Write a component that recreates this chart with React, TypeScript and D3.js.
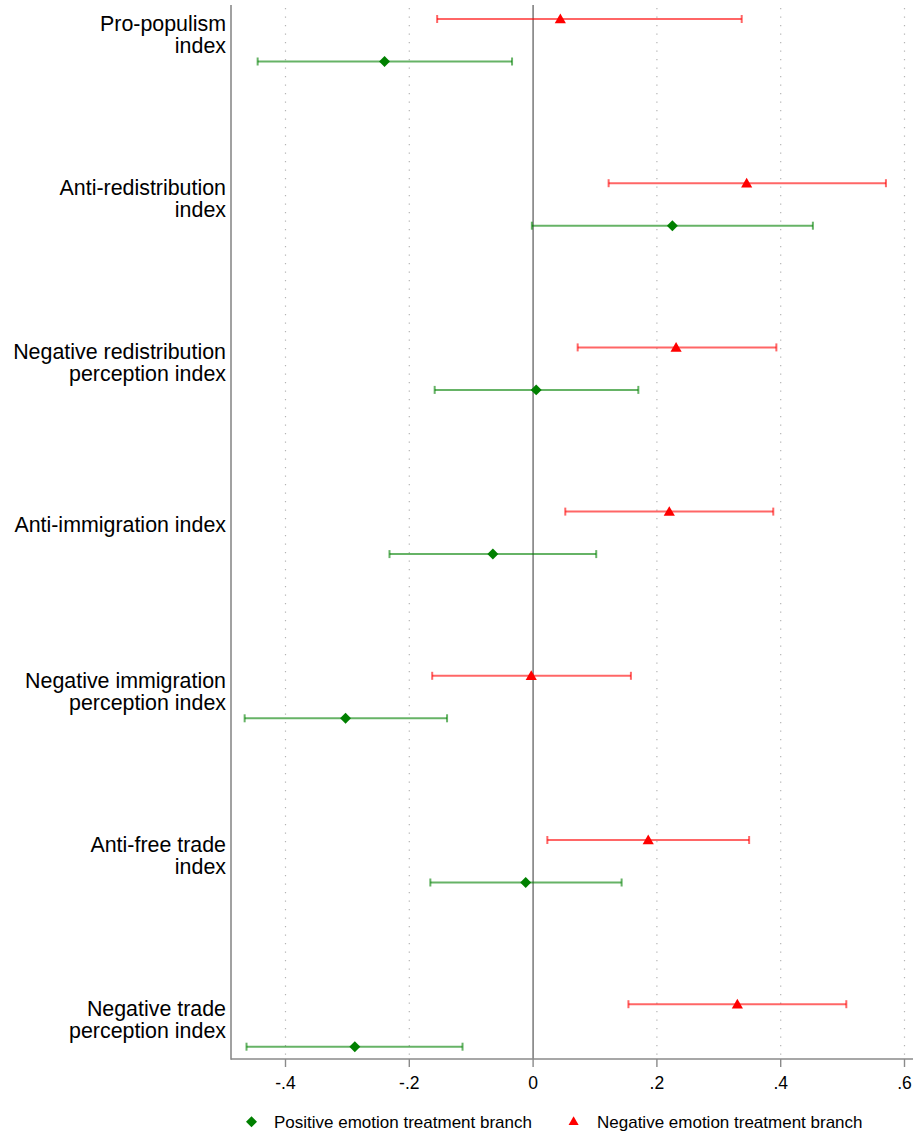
import React from "react";
import * as d3 from "d3";

const categories: string[][] = [
  ["Pro-populism", "index"],
  ["Anti-redistribution", "index"],
  ["Negative redistribution", "perception index"],
  ["Anti-immigration index"],
  ["Negative immigration", "perception index"],
  ["Anti-free trade", "index"],
  ["Negative trade", "perception index"],
];

const negPoint = [0.044, 0.345, 0.231, 0.22, -0.003, 0.186, 0.33];
const negLow = [-0.155, 0.122, 0.072, 0.052, -0.163, 0.023, 0.154];
const negHigh = [0.337, 0.57, 0.393, 0.388, 0.158, 0.349, 0.506];

const posPoint = [-0.24, 0.225, 0.005, -0.065, -0.303, -0.012, -0.288];
const posLow = [-0.445, -0.002, -0.159, -0.232, -0.466, -0.166, -0.463];
const posHigh = [-0.034, 0.452, 0.17, 0.102, -0.139, 0.143, -0.114];

const xTicks = [-0.4, -0.2, 0, 0.2, 0.4, 0.6];
const xTickLabels = ["-.4", "-.2", "0", ".2", ".4", ".6"];

const legendLabels = [
  "Positive emotion treatment branch",
  "Negative emotion treatment branch",
];

const W = 913;
const H = 1134;
const plotLeft = 231;
const plotRight = 913;
const plotTop = 5;
const plotBottom = 1059;

const GREEN = "#008000";
const RED = "#ff0000";
const FONT = "'Liberation Sans', Arial, Helvetica, sans-serif";

export default function App() {
  const x = d3.scaleLinear().domain([-0.4, 0.6]).range([285.5, 904.5]);
  const y = d3.scaleLinear().domain([0, 6]).range([40.25, 1025.45]);
  const off = 0.1294; // offset of series within a category, in category units

  const diamond = d3.symbol().type(d3.symbolSquare).size(60)();
  const triangle = d3.symbol().type(d3.symbolTriangle).size(54)();
  const legTriangle = d3.symbol().type(d3.symbolTriangle).size(44)();

  const capH = 4;

  const series = [
    { point: negPoint, low: negLow, high: negHigh, color: RED, dy: -off, sym: triangle, symDy: 1, rot: 0 },
    { point: posPoint, low: posLow, high: posHigh, color: GREEN, dy: off, sym: diamond, symDy: 0, rot: 45 },
  ];

  return (
    <div style={{ position: "absolute", left: 0, top: 0 }}>
      <svg width={W} height={H} style={{ display: "block", background: "#fff" }}>
        {/* dotted gridlines */}
        {xTicks.filter((t) => t !== 0).map((t) => (
          <line
            key={"g" + t}
            x1={x(t)}
            x2={x(t)}
            y1={plotTop + 3}
            y2={plotBottom}
            stroke="#b4b4b4"
            strokeWidth={1.2}
            strokeDasharray="1.2 7.3"
          />
        ))}
        {/* zero line */}
        <line x1={x(0)} x2={x(0)} y1={plotTop} y2={plotBottom} stroke="#808080" strokeWidth={1.6} />

        {/* axes */}
        <line x1={plotLeft} x2={plotLeft} y1={plotTop} y2={plotBottom + 0.8} stroke="#8a8a8a" strokeWidth={1.6} />
        <line x1={plotLeft} x2={plotRight} y1={plotBottom} y2={plotBottom} stroke="#8a8a8a" strokeWidth={1.6} />
        {xTicks.map((t, i) => (
          <g key={"t" + t}>
            <line x1={x(t)} x2={x(t)} y1={plotBottom} y2={plotBottom + 8} stroke="#8a8a8a" strokeWidth={1.4} />
            <text
              x={x(t)}
              y={plotBottom + 30}
              textAnchor="middle"
              fontFamily={FONT}
              fontSize={17.5}
              fill="#000"
            >
              {xTickLabels[i]}
            </text>
          </g>
        ))}

        {/* category labels */}
        {categories.map((lines, i) => {
          const c = y(i);
          const base = lines.length === 2 ? [c - 9.5, c + 12.5] : [c - 0.5];
          return (
            <text key={"c" + i} textAnchor="end" fontFamily={FONT} fontSize={21.4} fill="#000">
              {lines.map((ln, j) => (
                <tspan key={j} x={226} y={base[j]}>
                  {ln}
                </tspan>
              ))}
            </text>
          );
        })}

        {/* error bars and points */}
        {series.map((s, si) => (
          <g key={"s" + si}>
            {s.point.map((p, i) => {
              const yy = y(i + s.dy);
              return (
                <g key={i}>
                  <g stroke={s.color} strokeOpacity={0.6} strokeWidth={2}>
                    <line x1={x(s.low[i])} x2={x(s.high[i])} y1={yy} y2={yy} />
                    <line x1={x(s.low[i])} x2={x(s.low[i])} y1={yy - capH} y2={yy + capH} />
                    <line x1={x(s.high[i])} x2={x(s.high[i])} y1={yy - capH} y2={yy + capH} />
                  </g>
                  <path
                    d={s.sym || ""}
                    transform={`translate(${x(p)},${yy + s.symDy}) rotate(${s.rot})`}
                    fill={s.color}
                  />
                </g>
              );
            })}
          </g>
        ))}

        {/* legend */}
        <path d={diamond || ""} transform="translate(251.5,1121.7) rotate(45)" fill={GREEN} />
        <text x={274} y={1127.5} fontFamily={FONT} fontSize={17} fill="#000">
          {legendLabels[0]}
        </text>
        <path d={legTriangle || ""} transform="translate(573.6,1122)" fill={RED} />
        <text x={597} y={1127.5} fontFamily={FONT} fontSize={17} fill="#000">
          {legendLabels[1]}
        </text>
      </svg>
    </div>
  );
}
